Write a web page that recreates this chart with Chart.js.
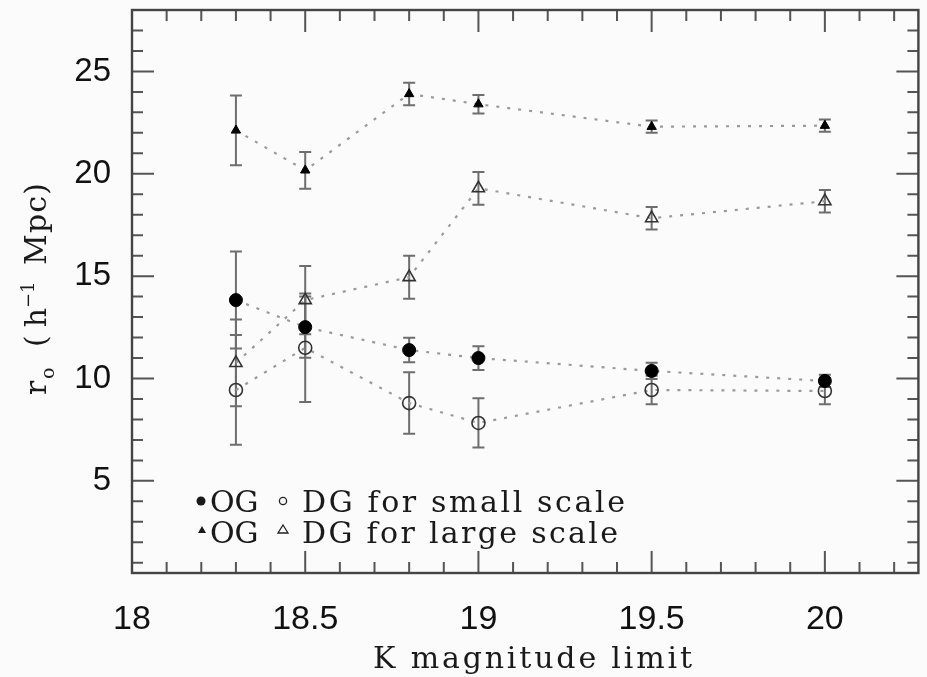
<!DOCTYPE html>
<html>
<head>
<meta charset="utf-8">
<script src="https://cdn.jsdelivr.net/npm/chart.js@4.4.1/dist/chart.umd.min.js"></script>
<style>
  html, body { margin: 0; padding: 0; background: #fbfbfb; }
  #wrap { width: 927px; height: 677px; position: relative; }
</style>
</head>
<body>
<div id="wrap"><canvas id="chart" width="927" height="677"></canvas></div>
<script>
// K magnitude limits (x)
const kLimits = [18.3, 18.5, 18.8, 19.0, 19.5, 20.0];

// small scale
const ogSmall = [13.83, 12.51, 11.39, 11.0, 10.37, 9.88];
const ogSmallErr = [2.37, 1.5, 0.6, 0.58, 0.4, 0.3];
const dgSmall = [9.44, 11.5, 8.8, 7.83, 9.44, 9.39];
const dgSmallErr = [2.68, 2.65, 1.5, 1.2, 0.7, 0.65];

// large scale
const ogLarge = [22.12, 20.17, 23.9, 23.4, 22.3, 22.35];
const ogLargeErr = [1.7, 0.9, 0.55, 0.45, 0.3, 0.3];
const dgLarge = [10.76, 13.83, 14.95, 19.29, 17.83, 18.66];
const dgLargeErr = [2.12, 1.67, 1.05, 0.8, 0.55, 0.55];

// axis ticks
const xTicks = [18, 18.5, 19, 19.5, 20];
const yTicks = [5, 10, 15, 20, 25];

const serif = '"DejaVu Serif", "Liberation Serif", serif';

function pts(ys) {
  return kLimits.map((x, i) => ({ x: x, y: ys[i] }));
}

function makeSet(label, ys, errs, style, radius, filled) {
  return {
    label: label,
    data: pts(ys),
    errors: errs,
    showLine: true,
    borderColor: '#9a9a9a',
    borderWidth: 2.2,
    borderDash: [3, 8],
    pointStyle: style,
    pointRadius: radius,
    pointBorderWidth: filled ? 1 : 1.6,
    pointBorderColor: filled ? '#000' : '#333',
    pointBackgroundColor: filled ? '#000' : 'rgba(0,0,0,0)'
  };
}

// draws text one char at a time so it spans a given width
function drawSpaced(ctx, text, x, y, width) {
  const natural = ctx.measureText(text).width;
  const gap = text.length > 1 ? (width - natural) / (text.length - 1) : 0;
  let cx = x;
  for (const ch of text) {
    ctx.fillText(ch, cx, y);
    cx += ctx.measureText(ch).width + gap;
  }
}

const errorBars = {
  id: 'errorBars',
  beforeDatasetsDraw(chart) {
    const ctx = chart.ctx;
    const xs = chart.scales.x, ys = chart.scales.y;
    ctx.save();
    ctx.strokeStyle = '#6e6e6e';
    ctx.lineWidth = 2;
    chart.data.datasets.forEach(ds => {
      ds.data.forEach((p, i) => {
        const e = ds.errors[i];
        const px = xs.getPixelForValue(p.x);
        const top = ys.getPixelForValue(p.y + e);
        const bot = ys.getPixelForValue(p.y - e);
        ctx.beginPath();
        ctx.moveTo(px, top); ctx.lineTo(px, bot);
        ctx.moveTo(px - 6, top); ctx.lineTo(px + 6, top);
        ctx.moveTo(px - 6, bot); ctx.lineTo(px + 6, bot);
        ctx.stroke();
      });
    });
    ctx.restore();
  }
};

const frameAndText = {
  id: 'frameAndText',
  afterDraw(chart) {
    const ctx = chart.ctx;
    const a = chart.chartArea;
    const xs = chart.scales.x, ys = chart.scales.y;
    ctx.save();

    // inward ticks on all four sides
    ctx.strokeStyle = '#555';
    ctx.lineWidth = 2;
    ctx.beginPath();
    for (let i = 180; i <= 202; i++) {
      const px = xs.getPixelForValue(i / 10);
      const len = (i % 5 === 0) ? 22 : 11;
      ctx.moveTo(px, a.bottom); ctx.lineTo(px, a.bottom - len);
      ctx.moveTo(px, a.top); ctx.lineTo(px, a.top + len);
    }
    for (let v = 1; v <= 28; v++) {
      const py = ys.getPixelForValue(v);
      const len = (v % 5 === 0) ? 22 : 11;
      ctx.moveTo(a.left, py); ctx.lineTo(a.left + len, py);
      ctx.moveTo(a.right, py); ctx.lineTo(a.right - len, py);
    }
    ctx.stroke();

    ctx.strokeStyle = '#444';
    ctx.lineWidth = 2.4;
    ctx.strokeRect(a.left, a.top, a.right - a.left, a.bottom - a.top);

    // legend
    ctx.fillStyle = '#1a1a1a';
    ctx.strokeStyle = '#222';
    ctx.lineWidth = 1.3;
    ctx.beginPath(); ctx.arc(201, 501, 4.5, 0, Math.PI * 2); ctx.fill();
    ctx.beginPath(); ctx.arc(283, 501, 3.6, 0, Math.PI * 2); ctx.stroke();
    ctx.beginPath();
    ctx.moveTo(202, 526); ctx.lineTo(206, 533); ctx.lineTo(198, 533); ctx.closePath();
    ctx.fill();
    ctx.beginPath();
    ctx.moveTo(283, 525); ctx.lineTo(288, 533); ctx.lineTo(278, 533); ctx.closePath();
    ctx.stroke();

    ctx.font = '30px ' + serif;
    ctx.textBaseline = 'alphabetic';
    ctx.textAlign = 'left';
    ctx.fillText('OG', 210, 512);
    drawSpaced(ctx, 'DG for small scale', 302, 512, 323);
    ctx.fillText('OG', 210, 543);
    drawSpaced(ctx, 'DG for large scale', 302, 543, 316);

    // x title
    drawSpaced(ctx, 'K magnitude limit', 373, 668, 319);

    // y title, rotated
    ctx.translate(46, 395);
    ctx.rotate(-Math.PI / 2);
    ctx.font = '30px ' + serif;
    ctx.fillText('r', 0, 0);
    ctx.font = '19px ' + serif;
    ctx.fillText('o', 16, 8);
    ctx.font = '30px ' + serif;
    drawSpaced(ctx, '(h', 48, 0, 39);
    ctx.font = '18px ' + serif;
    ctx.fillText('\u22121', 87, -12);
    ctx.font = '30px ' + serif;
    drawSpaced(ctx, 'Mpc)', 130, 0, 82);

    ctx.restore();
  }
};

const ctx = document.getElementById('chart').getContext('2d');
new Chart(ctx, {
  type: 'scatter',
  data: {
    datasets: [
      makeSet('OG small', ogSmall, ogSmallErr, 'circle', 6.5, true),
      makeSet('DG small', dgSmall, dgSmallErr, 'circle', 6.5, false),
      makeSet('OG large', ogLarge, ogLargeErr, 'triangle', 5.4, true),
      makeSet('DG large', dgLarge, dgLargeErr, 'triangle', 7, false)
    ]
  },
  options: {
    responsive: false,
    animation: false,
    layout: { padding: { left: 0, right: 5, top: 10, bottom: 0 } },
    plugins: {
      legend: { display: false },
      tooltip: { enabled: false }
    },
    scales: {
      x: {
        type: 'linear',
        min: 18,
        max: 20.27,
        afterFit(scale) {
          scale.height = 104;
          scale.paddingLeft = 0;
          scale.paddingRight = 0;
        },
        afterBuildTicks(scale) { scale.ticks = xTicks.map(v => ({ value: v })); },
        grid: { display: false, drawTicks: false },
        border: { display: false },
        ticks: {
          padding: 26,
          color: '#111',
          maxRotation: 0,
          font: { family: '"Liberation Sans", Arial, sans-serif', size: 34 },
          callback: v => String(v)
        }
      },
      y: {
        type: 'linear',
        min: 0.5,
        max: 28,
        afterFit(scale) {
          scale.width = 132;
          scale.paddingTop = 0;
          scale.paddingBottom = 0;
        },
        afterBuildTicks(scale) { scale.ticks = yTicks.map(v => ({ value: v })); },
        grid: { display: false, drawTicks: false },
        border: { display: false },
        ticks: {
          padding: 21,
          color: '#111',
          font: { family: '"Liberation Sans", Arial, sans-serif', size: 33 },
          callback: v => String(v)
        }
      }
    }
  },
  plugins: [errorBars, frameAndText]
});
</script>
</body>
</html>
